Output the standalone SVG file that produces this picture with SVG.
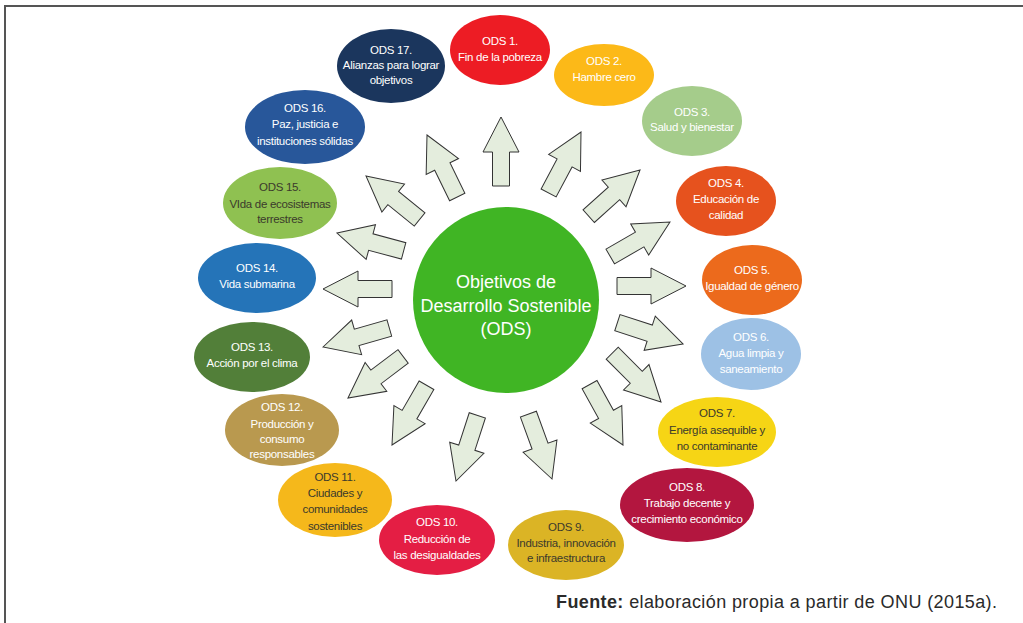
<svg xmlns="http://www.w3.org/2000/svg" xmlns:xlink="http://www.w3.org/1999/xlink" width="1023" height="623" viewBox="0 0 1023 623">
<style>
.t{font-family:"Liberation Sans",Arial,sans-serif;font-size:11.5px;letter-spacing:-0.3px;text-anchor:middle;fill:#ffffff}
.d{fill:#3b3a2c}
.c{font-family:"Liberation Sans",Arial,sans-serif;font-size:18px;text-anchor:middle;fill:#ffffff}
.arr{fill:#e4eddd;stroke:#333333;stroke-width:1;stroke-linejoin:miter}
.f{font-family:"Liberation Sans",Arial,sans-serif;font-size:18px;fill:#2a2a2a}
</style>
<defs>
<path id="arrow" d="M0,0 L18,35 L8.5,35 L8.5,69 L-8.5,69 L-8.5,35 L-18,35 Z"/>
</defs>
<rect width="1023" height="623" fill="#ffffff"/>
<g id="frame" stroke="#555555" stroke-width="2" fill="none">
<path d="M4,6 L1023,6"/>
<path d="M5,5 L5,623"/>
</g>
<g id="connectors" class="arr">
<use xlink:href="#arrow" transform="translate(501,117) rotate(0)"/>
<use xlink:href="#arrow" transform="translate(581,132) rotate(28)"/>
<use xlink:href="#arrow" transform="translate(640,170) rotate(48)"/>
<use xlink:href="#arrow" transform="translate(670,222) rotate(60)"/>
<use xlink:href="#arrow" transform="translate(686,286) rotate(90)"/>
<use xlink:href="#arrow" transform="translate(683,344) rotate(108)"/>
<use xlink:href="#arrow" transform="translate(661,402) rotate(135)"/>
<use xlink:href="#arrow" transform="translate(623,445) rotate(151)"/>
<use xlink:href="#arrow" transform="translate(552,479) rotate(160)"/>
<use xlink:href="#arrow" transform="translate(456,481) rotate(198)"/>
<use xlink:href="#arrow" transform="translate(392,445) rotate(210)"/>
<use xlink:href="#arrow" transform="translate(348,398) rotate(233)"/>
<use xlink:href="#arrow" transform="translate(323,347) rotate(254)"/>
<use xlink:href="#arrow" transform="translate(323,289) rotate(270)"/>
<use xlink:href="#arrow" transform="translate(337,233) rotate(285)"/>
<use xlink:href="#arrow" transform="translate(366,176) rotate(309)"/>
<use xlink:href="#arrow" transform="translate(427,135) rotate(334)"/>
</g>
<g id="center">
<circle cx="506" cy="300" r="93" fill="#40b524"/>
<text class="c" x="506" y="288">Objetivos de</text>
<text class="c" x="506" y="312">Desarrollo Sostenible</text>
<text class="c" x="506" y="335">(ODS)</text>
</g>
<g id="ods1"><ellipse cx="500" cy="50" rx="50" ry="35" fill="#ed1c24"/>
<text class="t" x="500" y="45">ODS 1.</text><text class="t" x="500" y="61">Fin de la pobreza</text></g>
<g id="ods2"><ellipse cx="604" cy="75" rx="50" ry="31" fill="#fcb918"/>
<text class="t" x="604" y="65">ODS 2.</text><text class="t" x="604" y="81">Hambre cero</text></g>
<g id="ods3"><ellipse cx="692" cy="121" rx="50" ry="35" fill="#a5cc8b"/>
<text class="t" x="692" y="116">ODS 3.</text><text class="t" x="692" y="131">Salud y bienestar</text></g>
<g id="ods4"><ellipse cx="726" cy="201" rx="50" ry="35" fill="#e6521e"/>
<text class="t" x="726" y="187">ODS 4.</text><text class="t" x="726" y="203">Educación de</text><text class="t" x="726" y="219">calidad</text></g>
<g id="ods5"><ellipse cx="752" cy="280" rx="50" ry="35" fill="#ec6a1c"/>
<text class="t" x="752" y="274">ODS 5.</text><text class="t" x="752" y="290">Igualdad de género</text></g>
<g id="ods6"><ellipse cx="751" cy="354" rx="50" ry="36" fill="#9dc1e5"/>
<text class="t" x="751" y="341">ODS 6.</text><text class="t" x="751" y="357">Agua limpia y</text><text class="t" x="751" y="373">saneamiento</text></g>
<g id="ods7"><ellipse cx="717" cy="432" rx="59" ry="35" fill="#f6d515"/>
<text class="t d" x="717" y="417">ODS 7.</text><text class="t d" x="717" y="434">Energía asequible y</text><text class="t d" x="717" y="450">no contaminante</text></g>
<g id="ods8"><ellipse cx="687" cy="505" rx="67" ry="37" fill="#b3163f"/>
<text class="t" x="687" y="491">ODS 8.</text><text class="t" x="687" y="507">Trabajo decente y</text><text class="t" x="687" y="523">crecimiento económico</text></g>
<g id="ods9"><ellipse cx="566" cy="545" rx="58" ry="35" fill="#dbb425"/>
<text class="t d" x="566" y="531">ODS 9.</text><text class="t d" x="566" y="547">Industria, innovación</text><text class="t d" x="566" y="562">e infraestructura</text></g>
<g id="ods10"><ellipse cx="437" cy="540" rx="58" ry="35" fill="#e41e44"/>
<text class="t" x="437" y="526">ODS 10.</text><text class="t" x="437" y="543">Reducción de</text><text class="t" x="437" y="559">las desigualdades</text></g>
<g id="ods11"><ellipse cx="335" cy="500" rx="57" ry="37" fill="#f5b81b"/>
<text class="t d" x="335" y="481">ODS 11.</text><text class="t d" x="335" y="497">Ciudades y</text><text class="t d" x="335" y="513">comunidades</text><text class="t d" x="335" y="530">sostenibles</text></g>
<g id="ods12"><ellipse cx="282" cy="430" rx="57" ry="36" fill="#b9994f"/>
<text class="t" x="282" y="411">ODS 12.</text><text class="t" x="282" y="428">Producción y</text><text class="t" x="282" y="443">consumo</text><text class="t" x="282" y="458">responsables</text></g>
<g id="ods13"><ellipse cx="252" cy="357" rx="58" ry="35" fill="#527f39"/>
<text class="t" x="252" y="351">ODS 13.</text><text class="t" x="252" y="367">Acción por el clima</text></g>
<g id="ods14"><ellipse cx="257" cy="278" rx="59" ry="35" fill="#2574b8"/>
<text class="t" x="257" y="272">ODS 14.</text><text class="t" x="257" y="288">Vida submarina</text></g>
<g id="ods15"><ellipse cx="280" cy="203" rx="57" ry="36" fill="#8fc151"/>
<text class="t d" x="280" y="191">ODS 15.</text><text class="t d" x="280" y="208">VIda de ecosistemas</text><text class="t d" x="280" y="223">terrestres</text></g>
<g id="ods16"><ellipse cx="305" cy="127" rx="60" ry="37" fill="#28579a"/>
<text class="t" x="305" y="112">ODS 16.</text><text class="t" x="305" y="128">Paz, justicia e</text><text class="t" x="305" y="145">instituciones sólidas</text></g>
<g id="ods17"><ellipse cx="391" cy="66" rx="54" ry="37" fill="#1b365d"/>
<text class="t" x="391" y="54">ODS 17.</text><text class="t" x="391" y="69">Alianzas para lograr</text><text class="t" x="391" y="84">objetivos</text></g>
<g id="source">
<text class="f" x="556" y="608" textLength="441" lengthAdjust="spacing"><tspan font-weight="bold">Fuente:</tspan> elaboración propia a partir de ONU (2015a).</text>
</g>
</svg>
